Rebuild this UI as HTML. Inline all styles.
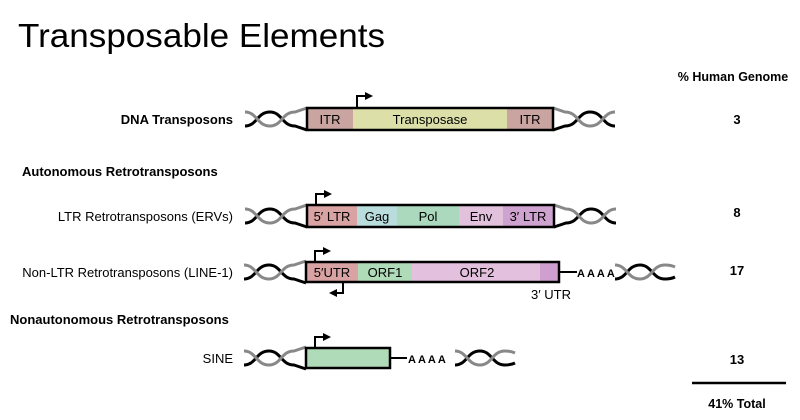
<!DOCTYPE html>
<html><head><meta charset="utf-8"><style>
html,body{margin:0;padding:0;background:#fff;}
svg{display:block;font-family:"Liberation Sans",Arial,sans-serif;}
</style></head><body>
<svg width="800" height="420" viewBox="0 0 800 420" xmlns="http://www.w3.org/2000/svg">
<defs>
<g id="hl">
<path d="M-62,7 C-50,7 -50,-7 -37,-7 C-25,-7 -25,7 -12,7 L0,11" fill="none" stroke="#000" stroke-width="3"/>
<path d="M-62,-7 C-50,-7 -50,7 -37,7 C-25,7 -25,-7 -12,-7 L0,-11" fill="none" stroke="#888" stroke-width="3"/>
</g>
<g id="hf">
<path d="M0,7 C12,7 12,-7 25,-7 C37,-7 37,7 50,7 C55,7 58,6 60,5" fill="none" stroke="#000" stroke-width="3"/>
<path d="M0,-7 C12,-7 12,7 25,7 C37,7 37,-7 50,-7 C55,-7 58,-6 60,-5" fill="none" stroke="#888" stroke-width="3"/>
</g>
<marker id="ah" markerWidth="8" markerHeight="8" refX="6" refY="4" orient="auto" markerUnits="userSpaceOnUse"><path d="M0,0 L8,4 L0,8z" fill="#000"/></marker>
</defs>

<text x="18" y="47" font-size="33" textLength="367" lengthAdjust="spacingAndGlyphs">Transposable Elements</text>
<text x="733" y="81" font-size="12.5" font-weight="bold" text-anchor="middle">% Human Genome</text>

<g font-size="13" text-anchor="end">
<text x="233" y="124" font-weight="bold">DNA Transposons</text>
<text x="233" y="221">LTR Retrotransposons (ERVs)</text>
<text x="233" y="277">Non-LTR Retrotransposons (LINE-1)</text>
<text x="233" y="363">SINE</text>
</g>
<text x="22" y="176" font-size="13" font-weight="bold">Autonomous Retrotransposons</text>
<text x="10" y="324" font-size="13" font-weight="bold">Nonautonomous Retrotransposons</text>

<g font-size="13" font-weight="bold" text-anchor="middle">
<text x="737" y="124">3</text>
<text x="737" y="217">8</text>
<text x="737" y="275">17</text>
<text x="737" y="364">13</text>
<text x="737" y="408" font-size="12.5">41% Total</text>
</g>
<line x1="692" y1="383" x2="786" y2="383" stroke="#000" stroke-width="2.5"/>

<!-- DNA transposon -->
<use href="#hl" transform="translate(307,119)"/>
<use href="#hl" transform="translate(553,119) scale(-1,1)"/>
<rect x="307" y="108" width="46" height="22" fill="#c9a4a0"/>
<rect x="353" y="108" width="154" height="22" fill="#dcdfa8"/>
<rect x="507" y="108" width="46" height="22" fill="#c9a4a0"/>
<rect x="307" y="108" width="246" height="22" fill="none" stroke="#000" stroke-width="2.5"/>
<g font-size="13" text-anchor="middle">
<text x="330" y="124">ITR</text><text x="430" y="124">Transposase</text><text x="530" y="124">ITR</text>
</g>
<path d="M357,107 V96 H371" fill="none" stroke="#000" stroke-width="2" marker-end="url(#ah)"/>

<!-- LTR -->
<use href="#hl" transform="translate(307,216)"/>
<use href="#hl" transform="translate(554,216) scale(-1,1)"/>
<rect x="307" y="205" width="50" height="22" fill="#d9a3a3"/>
<rect x="357" y="205" width="40" height="22" fill="#b9dcdc"/>
<rect x="397" y="205" width="62" height="22" fill="#abd9bd"/>
<rect x="459" y="205" width="44" height="22" fill="#e2c1dd"/>
<rect x="503" y="205" width="51" height="22" fill="#cfa3cf"/>
<rect x="307" y="205" width="247" height="22" fill="none" stroke="#000" stroke-width="2.5"/>
<g font-size="13" text-anchor="middle">
<text x="332" y="221">5′ LTR</text><text x="377" y="221">Gag</text><text x="428" y="221">Pol</text><text x="481" y="221">Env</text><text x="528" y="221">3′ LTR</text>
</g>
<path d="M316,204 V194 H330" fill="none" stroke="#000" stroke-width="2" marker-end="url(#ah)"/>

<!-- LINE-1 -->
<use href="#hl" transform="translate(306,272)"/>
<rect x="306" y="262" width="52" height="20" fill="#d9a3a3"/>
<rect x="358" y="262" width="54" height="20" fill="#b0dbb9"/>
<rect x="412" y="262" width="128" height="20" fill="#e3c0dd"/>
<rect x="540" y="262" width="19" height="20" fill="#cf9fcf"/>
<rect x="306" y="262" width="253" height="20" fill="none" stroke="#000" stroke-width="2.5"/>
<g font-size="13" text-anchor="middle">
<text x="332" y="277">5′UTR</text><text x="385" y="277">ORF1</text><text x="477" y="277">ORF2</text>
<text x="551" y="299">3′ UTR</text>
</g>
<line x1="559" y1="272" x2="577" y2="272" stroke="#000" stroke-width="2"/>
<text x="577" y="277" font-size="11" font-weight="bold" letter-spacing="2">AAAA</text>
<use href="#hf" transform="translate(615,272)"/>
<path d="M315,261 V251 H329" fill="none" stroke="#000" stroke-width="2" marker-end="url(#ah)"/>
<path d="M343,283 V293 H331" fill="none" stroke="#000" stroke-width="2" marker-end="url(#ah)"/>

<!-- SINE -->
<use href="#hl" transform="translate(306,358)"/>
<rect x="306" y="348" width="84" height="20" fill="#b0dbb9" stroke="#000" stroke-width="2.5"/>
<line x1="390" y1="358" x2="407" y2="358" stroke="#000" stroke-width="2"/>
<text x="408" y="363" font-size="11" font-weight="bold" letter-spacing="2">AAAA</text>
<use href="#hf" transform="translate(455,358)"/>
<path d="M315,347 V337 H329" fill="none" stroke="#000" stroke-width="2" marker-end="url(#ah)"/>
</svg>
</body></html>
